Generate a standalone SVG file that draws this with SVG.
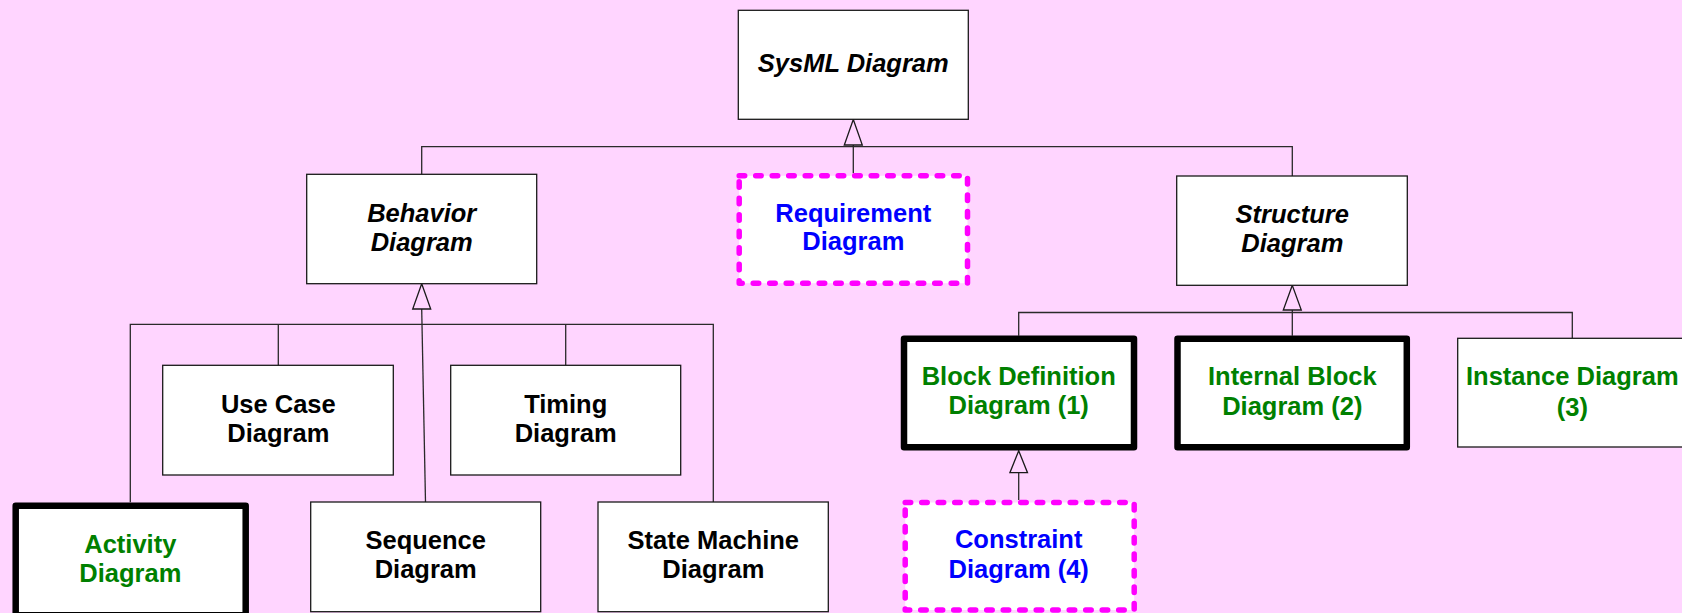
<svg xmlns="http://www.w3.org/2000/svg" width="1682" height="613" viewBox="0 0 1682 613">
  <defs>
    <style>
      .bg { fill: #FFD5FF; }
      .box { fill: #FFFFFF; stroke: #1A1A1A; stroke-width: 1.3; }
      .bold-box { fill: #FFFFFF; stroke: #000000; stroke-width: 6.5; stroke-linejoin: round; }
      .dash-box { fill: #FFFFFF; stroke: #FF00FF; stroke-width: 5.5; stroke-dasharray: 5.5 11; stroke-linecap: round; stroke-linejoin: round; }
      .label { font-family: "Liberation Sans", Arial, sans-serif; font-size: 25.5px; font-weight: bold; text-anchor: middle; }
      .abstract { font-style: italic; fill: #000000; }
      .plain { fill: #000000; }
      .green { fill: #008000; }
      .blue { fill: #0000FF; }
      .wire { fill: none; stroke: #2A2A2A; stroke-width: 1.3; }
      .gen { fill: #FFD5FF; stroke: #1A1A1A; stroke-width: 1.3; stroke-linejoin: miter; }
    </style>
  </defs>

  <rect class="bg" x="0" y="0" width="1682" height="613"/>

  <!-- generalization connectors -->
  <g id="connectors">
    <!-- top level: Behavior / Requirement / Structure to SysML -->
    <path class="wire" d="M421.7,174.3 V146.7 H1292.3 V176"/>
    <path class="wire" d="M853.3,173.3 V145"/>
    <polygon class="gen" points="853.3,119.5 844.3,145 862.3,145"/>

    <!-- behavior family -->
    <path class="wire" d="M130.3,502.3 V324.3 H713.3 V502"/>
    <path class="wire" d="M278.3,324.3 V365.3"/>
    <path class="wire" d="M565.7,324.3 V365.3"/>
    <path class="wire" d="M421.7,309 L425.5,502"/>
    <polygon class="gen" points="421.7,283.7 412.7,309 430.7,309"/>

    <!-- structure family -->
    <path class="wire" d="M1018.7,335.7 V312.5 H1572.3 V338.3"/>
    <path class="wire" d="M1292.3,310 V335.7"/>
    <polygon class="gen" points="1292.3,285.3 1283.3,310 1301.3,310"/>

    <!-- constraint to block definition -->
    <path class="wire" d="M1018.7,472.7 V500"/>
    <polygon class="gen" points="1018.7,450.7 1009.9,472.7 1027.5,472.7"/>
  </g>

  <g id="sysml-diagram">
    <rect class="box" x="738.3" y="10.3" width="230" height="109"/>
    <text class="label abstract" x="853.3" y="71.7">SysML Diagram</text>
  </g>

  <g id="behavior-diagram">
    <rect class="box" x="306.7" y="174.3" width="230" height="109.4"/>
    <text class="label abstract" x="421.7" y="221.5">Behavior</text>
    <text class="label abstract" x="421.7" y="250.5">Diagram</text>
  </g>

  <g id="requirement-diagram">
    <rect class="dash-box" x="739.2" y="175.8" width="228.3" height="107.4"/>
    <text class="label blue" x="853.3" y="221.7">Requirement</text>
    <text class="label blue" x="853.3" y="250.3">Diagram</text>
  </g>

  <g id="structure-diagram">
    <rect class="box" x="1176.7" y="176" width="230.6" height="109.3"/>
    <text class="label abstract" x="1292.3" y="222.7">Structure</text>
    <text class="label abstract" x="1292.3" y="251.7">Diagram</text>
  </g>

  <g id="use-case-diagram">
    <rect class="box" x="162.7" y="365.3" width="230.6" height="109.7"/>
    <text class="label plain" x="278.3" y="413.3">Use Case</text>
    <text class="label plain" x="278.3" y="442">Diagram</text>
  </g>

  <g id="timing-diagram">
    <rect class="box" x="450.7" y="365.3" width="230" height="109.7"/>
    <text class="label plain" x="565.7" y="413">Timing</text>
    <text class="label plain" x="565.7" y="442">Diagram</text>
  </g>

  <g id="activity-diagram">
    <rect class="bold-box" x="15.7" y="505.7" width="230" height="109.5"/>
    <text class="label green" x="130.3" y="552.5">Activity</text>
    <text class="label green" x="130.3" y="581.7">Diagram</text>
  </g>

  <g id="sequence-diagram">
    <rect class="box" x="310.7" y="502" width="230" height="109.7"/>
    <text class="label plain" x="425.7" y="548.5">Sequence</text>
    <text class="label plain" x="425.7" y="577.5">Diagram</text>
  </g>

  <g id="state-machine-diagram">
    <rect class="box" x="598" y="502" width="230.3" height="109.7"/>
    <text class="label plain" x="713.3" y="549.3">State Machine</text>
    <text class="label plain" x="713.3" y="578.3">Diagram</text>
  </g>

  <g id="block-definition-diagram">
    <rect class="bold-box" x="904" y="338.7" width="230" height="108.6"/>
    <text class="label green" x="1018.7" y="385">Block Definition</text>
    <text class="label green" x="1018.7" y="414.3">Diagram (1)</text>
  </g>

  <g id="internal-block-diagram">
    <rect class="bold-box" x="1177.5" y="338.7" width="229.3" height="108.6"/>
    <text class="label green" x="1292.3" y="385">Internal Block</text>
    <text class="label green" x="1292.3" y="414.5">Diagram (2)</text>
  </g>

  <g id="instance-diagram">
    <rect class="box" x="1457.7" y="338.3" width="230" height="108.7"/>
    <text class="label green" x="1572.3" y="385">Instance Diagram</text>
    <text class="label green" x="1572.3" y="415.5">(3)</text>
  </g>

  <g id="constraint-diagram">
    <rect class="dash-box" x="905.2" y="502.5" width="229" height="107.5"/>
    <text class="label blue" x="1018.7" y="548.3">Constraint</text>
    <text class="label blue" x="1018.7" y="577.7">Diagram (4)</text>
  </g>
</svg>
